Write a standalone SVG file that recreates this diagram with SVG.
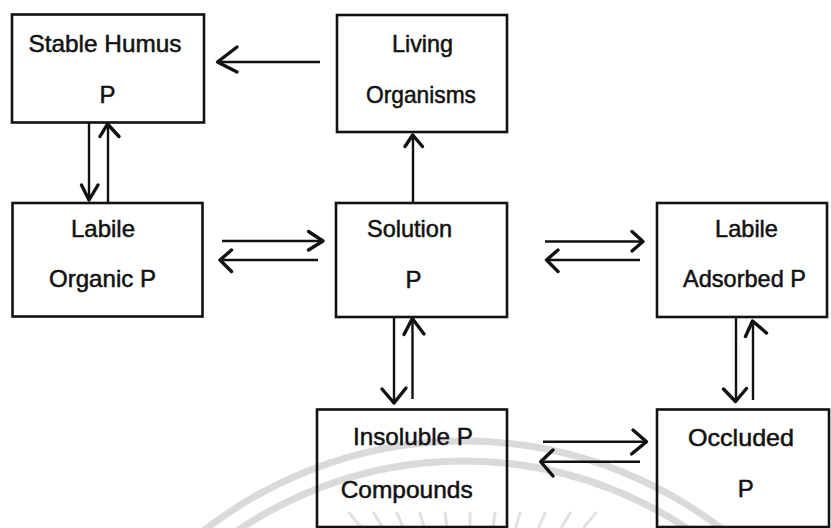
<svg xmlns="http://www.w3.org/2000/svg" width="831" height="528" viewBox="0 0 831 528">
<style>
.box{fill:none;stroke:#111;stroke-width:2.6}
.lbl{font-family:"Liberation Sans",Arial,sans-serif;font-size:24px;fill:#111;stroke:#111;stroke-width:0.5;text-anchor:middle}
.ln{stroke:#111;stroke-width:2.4;fill:none}
.hd{stroke:#111;stroke-width:3.4;fill:none;stroke-linecap:round;stroke-linejoin:round}
.wm{fill:none;stroke:#dadada;stroke-width:7}
.ray{stroke:#e2e2e2;stroke-width:3}
</style>
<rect width="831" height="528" fill="#fff"/>
<g id="watermark">
<circle class="wm" cx="464" cy="863" r="422"/>
<circle class="wm" cx="464" cy="863" r="402"/>
<line class="ray" x1="348.3" y1="512" x2="361.7" y2="528"/>
<line class="ray" x1="373" y1="512" x2="383" y2="528"/>
<line class="ray" x1="396.4" y1="512" x2="403.6" y2="528"/>
<line class="ray" x1="419.6" y1="512" x2="424.4" y2="528"/>
<line class="ray" x1="444.8" y1="512" x2="447.2" y2="528"/>
<line class="ray" x1="470" y1="512" x2="470" y2="528"/>
<line class="ray" x1="495.2" y1="512" x2="492.8" y2="528"/>
<line class="ray" x1="520.4" y1="512" x2="515.6" y2="528"/>
<line class="ray" x1="545.6" y1="512" x2="538.4" y2="528"/>
<line class="ray" x1="571" y1="512" x2="561" y2="528"/>
<line class="ray" x1="596.7" y1="512" x2="583.3" y2="528"/>
</g>
<g id="connectors">
<line class="ln" x1="320" y1="62" x2="218" y2="62"/>
<polyline class="hd" points="237,47 217.5,62 237,72"/>
<line class="ln" x1="89" y1="122.5" x2="89" y2="199"/>
<polyline class="hd" points="81.5,185 89,200 98,185"/>
<line class="ln" x1="108" y1="203" x2="108" y2="125"/>
<polyline class="hd" points="100,136.5 107.5,124 119,136.5"/>
<line class="ln" x1="413" y1="203" x2="413" y2="136"/>
<polyline class="hd" points="405,146.5 412.7,135 422.5,146.5"/>
<line class="ln" x1="222" y1="241" x2="322" y2="241"/>
<polyline class="hd" points="308.5,231.5 323,241 308.5,250"/>
<line class="ln" x1="318" y1="260" x2="221" y2="260"/>
<polyline class="hd" points="231.5,250 220,260 231.5,271.5"/>
<line class="ln" x1="545" y1="241.5" x2="642" y2="241.5"/>
<polyline class="hd" points="632,231.5 643,241.5 632,251"/>
<line class="ln" x1="640" y1="260" x2="548" y2="260"/>
<polyline class="hd" points="558,250 546.5,260 558,271.5"/>
<line class="ln" x1="394" y1="317" x2="394" y2="402"/>
<polyline class="hd" points="382,389 394,403 406,388"/>
<line class="ln" x1="412.5" y1="399" x2="412.5" y2="319"/>
<polyline class="hd" points="404,334.5 412.3,318.5 424,334"/>
<line class="ln" x1="736" y1="317" x2="736" y2="400.5"/>
<polyline class="hd" points="723.5,389 735.5,401.5 746.5,388.5"/>
<line class="ln" x1="753" y1="400" x2="753" y2="322"/>
<polyline class="hd" points="745.5,336.5 752.5,321 766.5,333"/>
<line class="ln" x1="543" y1="441.7" x2="645.5" y2="441.7"/>
<polyline class="hd" points="633,430 646.5,441.7 631.5,454"/>
<line class="ln" x1="640" y1="461.7" x2="542" y2="461.7"/>
<polyline class="hd" points="553,450 540.7,461.7 553,476"/>
</g>
<g id="n-stable-humus">
<rect class="box" x="12" y="14.5" width="192" height="108"/>
<text class="lbl" x="105" y="52" textLength="153" lengthAdjust="spacingAndGlyphs">Stable Humus</text>
<text class="lbl" x="107.5" y="103">P</text>
</g>
<g id="n-living">
<rect class="box" x="337" y="15" width="170" height="117"/>
<text class="lbl" x="422.5" y="52" textLength="61" lengthAdjust="spacingAndGlyphs">Living</text>
<text class="lbl" x="421" y="103" textLength="110" lengthAdjust="spacingAndGlyphs">Organisms</text>
</g>
<g id="n-labile-organic">
<rect class="box" x="12.5" y="203" width="190" height="113.5"/>
<text class="lbl" x="103" y="237" textLength="64" lengthAdjust="spacingAndGlyphs">Labile</text>
<text class="lbl" x="102.5" y="287" textLength="107" lengthAdjust="spacingAndGlyphs">Organic P</text>
</g>
<g id="n-solution">
<rect class="box" x="336" y="203" width="171" height="114"/>
<text class="lbl" x="409.5" y="237" textLength="85" lengthAdjust="spacingAndGlyphs">Solution</text>
<text class="lbl" x="413.5" y="288">P</text>
</g>
<g id="n-labile-adsorbed">
<rect class="box" x="657" y="203" width="170" height="114"/>
<text class="lbl" x="746.5" y="237" textLength="63" lengthAdjust="spacingAndGlyphs">Labile</text>
<text class="lbl" x="744.5" y="287" textLength="123" lengthAdjust="spacingAndGlyphs">Adsorbed P</text>
</g>
<g id="n-insoluble">
<rect class="box" x="317" y="409.5" width="190" height="117.5"/>
<text class="lbl" x="413" y="445" textLength="120" lengthAdjust="spacingAndGlyphs">Insoluble P</text>
<text class="lbl" x="406.7" y="497.5" textLength="132" lengthAdjust="spacingAndGlyphs">Compounds</text>
</g>
<g id="n-occluded">
<rect class="box" x="657" y="409.5" width="172" height="117.5"/>
<text class="lbl" x="741" y="446" textLength="106" lengthAdjust="spacingAndGlyphs">Occluded</text>
<text class="lbl" x="745.8" y="497">P</text>
</g>
</svg>
